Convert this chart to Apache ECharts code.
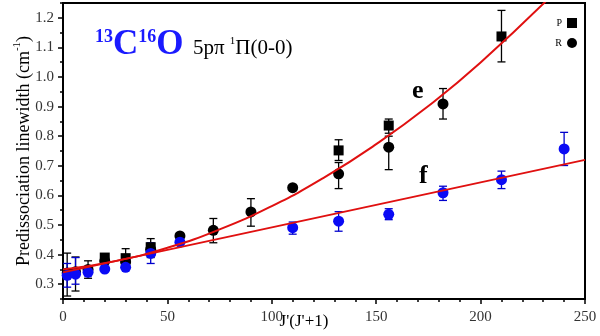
<!DOCTYPE html>
<html><head><meta charset="utf-8">
<script src="https://cdn.jsdelivr.net/npm/echarts@6/dist/echarts.min.js"></script>
<style>html,body{margin:0;padding:0;background:#fff}#c{width:600px;height:336px}</style>
</head><body><div id="c"></div>
<script>
// ---- data ----
const xP = [20, 30, 42, 132, 156, 210];
const yP = [0.39, 0.388, 0.425, 0.752, 0.836, 1.137];
const xR = [2, 6, 12, 20, 30, 42, 56, 72, 90, 110, 132, 156, 182];
const yR = [0.338, 0.342, 0.35, 0.378, 0.375, 0.418, 0.463, 0.482, 0.544, 0.626, 0.673, 0.763, 0.909];
const xF = [2, 6, 12, 20, 30, 42, 56, 110, 132, 156, 182, 210, 240];
const yF = [0.33, 0.334, 0.34, 0.351, 0.357, 0.404, 0.442, 0.491, 0.513, 0.536, 0.609, 0.653, 0.757];
const errBlackX  = [2, 6, 12, 30, 42, 72, 90, 132, 132, 156, 156, 182, 210];
const errBlackLo = [0.26, 0.277, 0.32, 0.36, 0.39, 0.44, 0.496, 0.623, 0.718, 0.687, 0.81, 0.858, 1.051];
const errBlackHi = [0.405, 0.392, 0.379, 0.42, 0.454, 0.522, 0.589, 0.711, 0.788, 0.80, 0.858, 0.961, 1.225];
const errBlueX  = [2, 6, 42, 110, 132, 156, 182, 210, 240];
const errBlueLo = [0.29, 0.30, 0.37, 0.469, 0.479, 0.518, 0.583, 0.623, 0.701];
const errBlueHi = [0.37, 0.39, 0.44, 0.51, 0.545, 0.555, 0.631, 0.682, 0.813];
const fitEX = [0, 25, 50, 75, 100, 125, 150, 175, 200, 235];
const fitEY = [0.350, 0.378, 0.423, 0.485, 0.564, 0.660, 0.773, 0.902, 1.049, 1.282];
const fitFX = [0, 250];
const fitFY = [0.34, 0.72];
const yMajorTicks = [0.3, 0.4, 0.5, 0.6, 0.7, 0.8, 0.9, 1.0, 1.1, 1.2];

const zip = (a, b) => a.map((v, i) => [v, b[i]]);
const zip3 = (a, b, c) => a.map((v, i) => [v, b[i], c[i]]);
const SERIF = '"Liberation Serif", "DejaVu Serif", serif';

function errRender(color) {
  return function (params, api) {
    const x = api.value(0);
    const lo = api.coord([x, api.value(1)]);
    const hi = api.coord([x, api.value(2)]);
    const w = 4;
    const st = { stroke: color, lineWidth: 1.3 };
    return { type: 'group', children: [
      { type: 'line', shape: { x1: lo[0], y1: lo[1], x2: hi[0], y2: hi[1] }, style: st },
      { type: 'line', shape: { x1: lo[0] - w, y1: lo[1], x2: lo[0] + w, y2: lo[1] }, style: st },
      { type: 'line', shape: { x1: hi[0] - w, y1: hi[1], x2: hi[0] + w, y2: hi[1] }, style: st }
    ]};
  };
}

const chart = echarts.init(document.getElementById('c'), null, { renderer: 'canvas' });
chart.setOption({
  animation: false,
  backgroundColor: '#fff',
  grid: { left: 63, right: 15, top: 3, bottom: 37, show: true, borderColor: '#000', borderWidth: 2,
          containLabel: false, outerBoundsMode: 'none' },
  legend: {
    data: [{ name: 'P', icon: 'rect' }, { name: 'R', icon: 'circle' }],
    orient: 'vertical', right: 18, top: 13, align: 'right',
    itemWidth: 10, itemHeight: 10, itemGap: 10,
    textStyle: { fontFamily: SERIF, fontSize: 10, color: '#000' }
  },
  xAxis: {
    type: 'value', min: 0, max: 250, interval: 50,
    name: "J'(J'+1)", nameLocation: 'middle', nameGap: 14, nameMoveOverlap: false,
    nameTextStyle: { fontFamily: SERIF, fontSize: 17, color: '#000', padding: [0, 40, 0, 0] },
    axisLine: { show: true, lineStyle: { color: '#000', width: 2 } },
    axisTick: { show: true, inside: false, length: 5, lineStyle: { color: '#000', width: 1.5 } },
    minorTick: { show: true, splitNumber: 5, length: 3, lineStyle: { color: '#000', width: 1.5 } },
    axisLabel: { fontFamily: SERIF, fontSize: 15, color: '#333', margin: 11 },
    splitLine: { show: false }, minorSplitLine: { show: false }
  },
  yAxis: [{
    type: 'value', min: 0.25, max: 1.25,
    name: '{a|Predissociation linewidth (cm}{s|-1}{a|)}', nameLocation: 'middle', nameGap: 30, nameMoveOverlap: false,
    nameTextStyle: { rich: {
      a: { fontFamily: SERIF, fontSize: 18, color: '#000', verticalAlign: 'bottom', lineHeight: 21 },
      s: { fontFamily: SERIF, fontSize: 11, color: '#000', verticalAlign: 'top', lineHeight: 21 }
    } },
    axisLine: { show: true, lineStyle: { color: '#000', width: 2 } },
    axisTick: { show: true, length: 5, customValues: yMajorTicks, lineStyle: { color: '#000', width: 1.5 } },
    axisLabel: { fontFamily: SERIF, fontSize: 15, color: '#333', margin: 9, customValues: yMajorTicks,
      formatter: v => v.toFixed(1) },
    splitLine: { show: false }
  }, {
    type: 'value', min: 0.25, max: 1.25, interval: 0.05, position: 'left',
    axisLine: { show: false }, axisLabel: { show: false }, splitLine: { show: false },
    axisTick: { show: true, length: 3, lineStyle: { color: '#000', width: 1.5 } }
  }],
  series: [
    { type: 'custom', name: 'errB', renderItem: errRender('#000'), data: zip3(errBlackX, errBlackLo, errBlackHi), z: 2, silent: true },
    { type: 'custom', name: 'errF', renderItem: errRender('#0000cc'), data: zip3(errBlueX, errBlueLo, errBlueHi), z: 2, silent: true },
    { type: 'scatter', name: 'P', symbol: 'rect', symbolSize: 10, itemStyle: { color: '#000', opacity: 1 }, data: zip(xP, yP), z: 3 },
    { type: 'scatter', name: 'R', symbol: 'circle', symbolSize: 11, itemStyle: { color: '#000', opacity: 1 }, data: zip(xR, yR), z: 3 },
    { type: 'scatter', name: 'f', symbol: 'circle', symbolSize: 11, itemStyle: { color: '#0a0af5', opacity: 1 }, data: zip(xF, yF), z: 4 },
    { type: 'line', name: 'fitE', smooth: true, showSymbol: false, clip: true, lineStyle: { color: '#e01010', width: 2 }, data: zip(fitEX, fitEY), z: 5 },
    { type: 'line', name: 'fitF', showSymbol: false, clip: true, lineStyle: { color: '#e01010', width: 2 }, data: zip(fitFX, fitFY), z: 5 }
  ],
  graphic: [
    { type: 'text', left: 95, top: 27, style: {
      text: '{s|13}{b|C}{s|16}{b|O}',
      rich: {
        s: { fontFamily: SERIF, fontSize: 18, fontWeight: 'bold', fill: '#1a1aff', verticalAlign: 'top', lineHeight: 34 },
        b: { fontFamily: SERIF, fontSize: 35, fontWeight: 'bold', fill: '#1a1aff', verticalAlign: 'bottom', lineHeight: 34 }
      } } },
    { type: 'text', left: 193, top: 36, style: {
      text: '{a|5pπ }{s|1}{a|Π(0-0)}',
      rich: {
        a: { fontFamily: SERIF, fontSize: 21, fill: '#000', verticalAlign: 'bottom', lineHeight: 23 },
        s: { fontFamily: SERIF, fontSize: 11, fill: '#000', verticalAlign: 'top', lineHeight: 23 }
      } } },
    { type: 'text', left: 412, top: 78, style: { text: 'e', fontFamily: SERIF, fontSize: 26, fontWeight: 'bold', fill: '#000' } },
    { type: 'text', left: 419, top: 163, style: { text: 'f', fontFamily: SERIF, fontSize: 26, fontWeight: 'bold', fill: '#000' } }
  ]
});
</script></body></html>
